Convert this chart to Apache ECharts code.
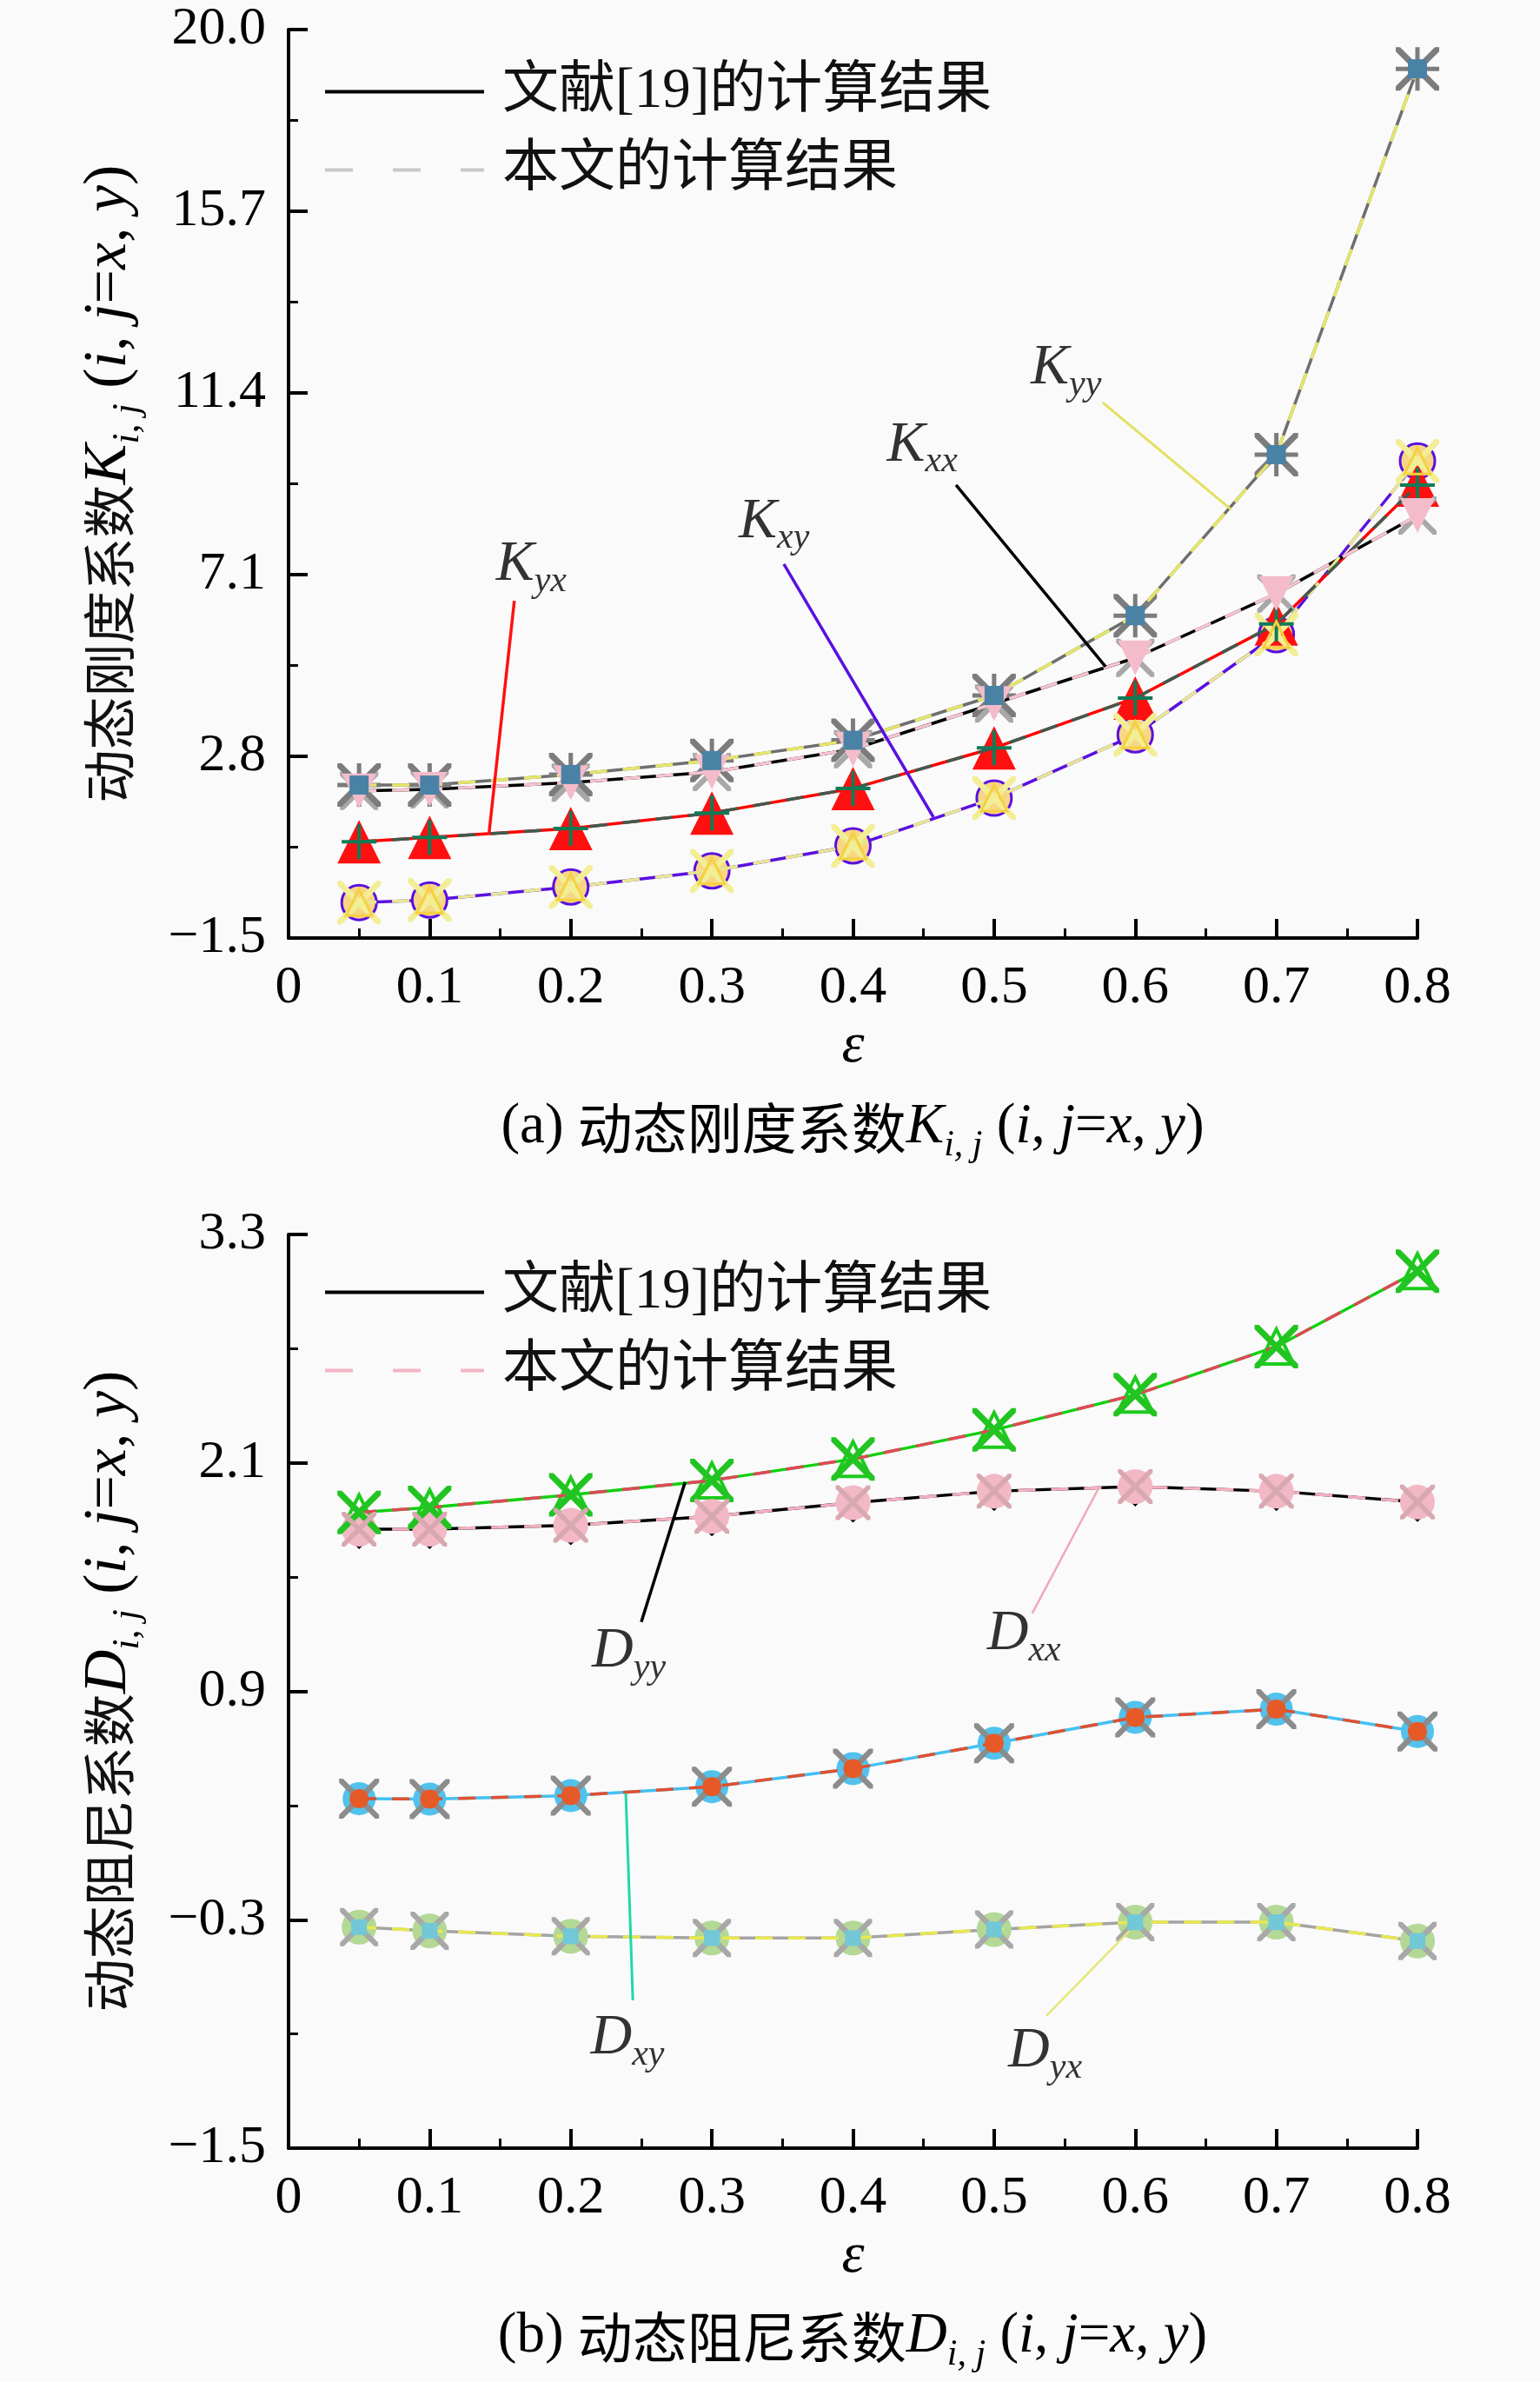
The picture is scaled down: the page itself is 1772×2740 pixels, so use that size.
<!DOCTYPE html>
<html><head><meta charset="utf-8">
<script src="https://cdn.jsdelivr.net/npm/echarts@6.0.0/dist/echarts.min.js"></script>
<style>html,body{margin:0;padding:0;background:#fafafa}#c{width:1772px;height:2740px}</style>
</head><body><div id="c"></div>
<script>
// ---------------- data ----------------
const eps = [0.05, 0.1, 0.2, 0.3, 0.4, 0.5, 0.6, 0.7, 0.8];
const kTicks = [-1.5, 2.8, 7.1, 11.4, 15.7, 20.0];
const dTicks = [-1.5, -0.3, 0.9, 2.1, 3.3];

// stiffness K (ref [19] and this paper)
const Kyy_ref  = [2.12, 2.12, 2.37, 2.70, 3.18, 4.24, 6.13, 9.94, 19.07];
const Kyy_ours = [2.12, 2.12, 2.37, 2.70, 3.18, 4.24, 6.13, 9.94, 19.07];
const Kxx_ref  = [1.98, 2.02, 2.18, 2.43, 2.97, 4.05, 5.13, 6.65, 8.50];
const Kxx_ours = [1.98, 2.02, 2.18, 2.43, 2.97, 4.05, 5.13, 6.65, 8.50];
const Kyx_ref  = [0.78, 0.88, 1.09, 1.46, 2.04, 3.00, 4.18, 5.93, 9.22];
const Kyx_ours = [0.78, 0.88, 1.09, 1.46, 2.04, 3.00, 4.18, 5.93, 9.22];
const Kxy_ref  = [-0.66, -0.60, -0.29, 0.09, 0.68, 1.81, 3.31, 5.68, 9.79];
const Kxy_ours = [-0.66, -0.60, -0.29, 0.09, 0.68, 1.81, 3.31, 5.68, 9.79];

// damping D
const Dyy_ref  = [1.84, 1.866, 1.932, 2.008, 2.12, 2.273, 2.458, 2.711, 3.107];
const Dyy_ours = [1.84, 1.866, 1.932, 2.008, 2.12, 2.273, 2.458, 2.711, 3.107];
const Dxx_ref  = [1.752, 1.752, 1.772, 1.819, 1.891, 1.951, 1.976, 1.951, 1.894];
const Dxx_ours = [1.752, 1.752, 1.772, 1.819, 1.891, 1.951, 1.976, 1.951, 1.894];
const Dxy_ref  = [0.336, 0.334, 0.352, 0.399, 0.494, 0.627, 0.763, 0.806, 0.689];
const Dxy_ours = [0.336, 0.334, 0.352, 0.399, 0.494, 0.627, 0.763, 0.806, 0.689];
const Dyx_ref  = [-0.339, -0.358, -0.387, -0.396, -0.396, -0.351, -0.313, -0.313, -0.412];
const Dyx_ours = [-0.339, -0.358, -0.387, -0.396, -0.396, -0.351, -0.313, -0.313, -0.412];

const legendNames = { refA: '文献[19]的计算结果', oursA: '本文的计算结果', refB: '文献[19]的计算结果', oursB: '本文的计算结果' };

// annotation layout (data coordinates)
const kNotes = [
  { sub: 'yy', at: [0.526, 11.98], from: [0.577, 11.17], to: [0.668, 8.64], color: '#e2e060', w: 3 },
  { sub: 'xx', at: [0.424, 10.16], from: [0.473, 9.22], to: [0.579, 4.92], color: '#000000', w: 3.5 },
  { sub: 'xy', at: [0.319, 8.35], from: [0.351, 7.35], to: [0.457, 1.36], color: '#5a10e0', w: 3.5 },
  { sub: 'yx', at: [0.147, 7.33], from: [0.160, 6.48], to: [0.142, 0.95], color: '#ff1010', w: 3.5 }
];
const dNotes = [
  { sub: 'yy', at: [0.215, 1.108], from: [0.250, 1.264], to: [0.281, 1.999], color: '#000000', w: 3.5 },
  { sub: 'xx', at: [0.495, 1.199], from: [0.527, 1.309], to: [0.575, 1.980], color: '#f0a8b8', w: 2.5 },
  { sub: 'xy', at: [0.214, -0.924], from: [0.244, -0.723], to: [0.239, 0.364], color: '#22d8a8', w: 3 },
  { sub: 'yx', at: [0.510, -0.992], from: [0.537, -0.805], to: [0.596, -0.358], color: '#e6e67a', w: 2.5 }
];

// ---------------- styling ----------------
const SERIF = "'Liberation Serif', 'Noto Sans CJK SC'";
const CJK = "'Noto Sans CJK SC'";
const X = 'path://M0,0L4,0L20,16L36,0L40,0L40,4L24,20L40,36L40,40L36,40L20,24L4,40L0,40L0,36L16,20L0,4Z';
const PLUS = 'path://M18,0H22V18H40V22H22V40H18V22H0V18H18Z';
const AST = 'path://M0,0L4,0L20,16L36,0L40,0L40,4L24,20L40,36L40,40L36,40L20,24L4,40L0,40L0,36L16,20L0,4Z M18,0H22V18H40V22H22V40H18V22H0V18H18Z';
const DOWN = 'path://M0,0L40,0L20,36Z';

const pairs = arr => eps.map((x, i) => [x, arr[i]]);

function ser(g, arr, o) {
  return {
    type: 'line', xAxisIndex: g, yAxisIndex: g * 2, data: pairs(arr),
    symbol: o.symbol || 'none', symbolSize: o.size || 10, symbolOffset: o.offset || [0, 0],
    showAllSymbol: true, silent: true, animation: false, z: o.z || 3,
    lineStyle: { color: o.color || '#000', width: o.width == null ? 3.5 : o.width, type: o.dash ? [20, 18] : 'solid', opacity: o.noLine ? 0 : 1 },
    itemStyle: { color: o.fill || 'rgba(0,0,0,0)', borderColor: o.border || 'rgba(0,0,0,0)', borderWidth: o.bw || 0, opacity: 1 }
  };
}

function noteSeries(g, notes, letter) {
  const out = [];
  notes.forEach(n => {
    out.push({
      type: 'line', xAxisIndex: g, yAxisIndex: g * 2, data: [n.from, n.to], symbol: 'none',
      silent: true, animation: false, z: 6,
      lineStyle: { color: n.color, width: n.w }
    });
    out.push({
      type: 'scatter', xAxisIndex: g, yAxisIndex: g * 2, data: [n.at], symbolSize: 1,
      itemStyle: { color: 'rgba(0,0,0,0)' }, silent: true, animation: false, z: 7,
      label: {
        show: true, position: 'inside', align: 'left', verticalAlign: 'middle',
        formatter: '{a|' + letter + '}{b|' + n.sub + '}',
        rich: {
          a: { fontFamily: 'Liberation Serif', fontStyle: 'italic', fontSize: 66, color: '#000', lineHeight: 80 },
          b: { fontFamily: 'Liberation Serif', fontStyle: 'italic', fontSize: 42, color: '#000', lineHeight: 42, verticalAlign: 'bottom' }
        }
      }
    });
  });
  return out;
}

function xAxisOf(g) {
  return {
    type: 'value', gridIndex: g, min: 0, max: 0.8, interval: 0.1,
    axisLine: { show: true, onZero: false, lineStyle: { color: '#000', width: 4 } },
    axisTick: { show: true, inside: true, length: 22, lineStyle: { color: '#000', width: 4 } },
    minorTick: { show: true, splitNumber: 2, length: 11, lineStyle: { color: '#000', width: 3 } },
    splitLine: { show: false }, minorSplitLine: { show: false },
    axisLabel: { fontFamily: 'Liberation Serif', fontSize: 62, color: '#000', margin: 27,
      formatter: v => String(Math.round(v * 100) / 100) },
    name: 'ε', nameLocation: 'middle', nameGap: 92,
    nameTextStyle: { fontFamily: 'Liberation Serif', fontStyle: 'italic', fontSize: 66, color: '#000' }
  };
}

const fmtY = v => (v < 0 ? '−' : '') + Math.abs(v).toFixed(1);
function yAxesOf(g, ticks, name) {
  const mids = [];
  for (let i = 0; i < ticks.length - 1; i++) mids.push(Math.round((ticks[i] + ticks[i + 1]) / 2 * 1000) / 1000);
  const mn = ticks[0], mx = ticks[ticks.length - 1];
  return [{
    type: 'value', gridIndex: g, min: mn, max: mx, position: 'left',
    axisLine: { show: true, onZero: false, lineStyle: { color: '#000', width: 4 } },
    axisTick: { show: true, inside: true, length: 22, customValues: ticks, lineStyle: { color: '#000', width: 4 } },
    axisLabel: { customValues: ticks, fontFamily: 'Liberation Serif', fontSize: 62, color: '#000', margin: 26, formatter: fmtY },
    splitLine: { show: false },
    name: name, nameLocation: 'middle', nameRotate: 90, nameGap: 163,
    nameTextStyle: {
      rich: {
        c: { fontFamily: CJK, fontSize: 61, color: '#111', lineHeight: 86 },
        k: { fontFamily: 'Liberation Serif', fontStyle: 'italic', fontSize: 70, color: '#000', lineHeight: 86 },
        r: { fontFamily: 'Liberation Serif', fontSize: 70, color: '#000', lineHeight: 86 },
        s: { fontFamily: 'Liberation Serif', fontStyle: 'italic', fontSize: 44, color: '#000', lineHeight: 44, verticalAlign: 'bottom' }
      }
    }
  }, {
    type: 'value', gridIndex: g, min: mn, max: mx, position: 'left',
    axisLine: { show: false, onZero: false },
    axisTick: { show: true, inside: true, length: 11, customValues: mids, lineStyle: { color: '#000', width: 3 } },
    axisLabel: { show: false }, splitLine: { show: false }
  }];
}

const yNameK = '{c|动态刚度系数}{k|K}{s|i, j}{r| (}{k|i}{r|, }{k|j}{r|=}{k|x}{r|, }{k|y}{r|)}';
const yNameD = '{c|动态阻尼系数}{k|D}{s|i, j}{r| (}{k|i}{r|, }{k|j}{r|=}{k|x}{r|, }{k|y}{r|)}';

const series = [
  // legend dummies
  { name: 'refA', type: 'line', xAxisIndex: 0, yAxisIndex: 0, data: [], symbol: 'none', lineStyle: { color: '#000', width: 4 }, itemStyle: { color: 'rgba(0,0,0,0)' } },
  { name: 'oursA', type: 'line', xAxisIndex: 0, yAxisIndex: 0, data: [], symbol: 'none', lineStyle: { color: '#c8c8c8', width: 4, type: [32, 46] }, itemStyle: { color: 'rgba(0,0,0,0)' } },
  { name: 'refB', type: 'line', xAxisIndex: 1, yAxisIndex: 2, data: [], symbol: 'none', lineStyle: { color: '#000', width: 4 }, itemStyle: { color: 'rgba(0,0,0,0)' } },
  { name: 'oursB', type: 'line', xAxisIndex: 1, yAxisIndex: 2, data: [], symbol: 'none', lineStyle: { color: '#f4b4c4', width: 4, type: [32, 46] }, itemStyle: { color: 'rgba(0,0,0,0)' } },

  // ---- K chart ----
  // Kxy
  ser(0, Kxy_ref, { color: '#5a10e0', symbol: 'circle', size: 40, fill: '#f7d684', border: '#5a10e0', bw: 3, z: 3 }),
  ser(0, Kxy_ours, { color: '#e8e890', dash: true, symbol: X, size: 50, fill: '#f2ee96', z: 4 }),
  ser(0, Kxy_ours, { noLine: true, symbol: 'triangle', size: 30, fill: 'rgba(0,0,0,0)', border: '#f6d040', bw: 3, z: 5 }),
  // Kyx
  ser(0, Kyx_ref, { color: '#ff0000', symbol: 'triangle', size: 50, fill: '#ff1010', z: 3 }),
  ser(0, Kyx_ours, { color: '#3c5c4e', dash: true, symbol: PLUS, size: 40, fill: '#127a56', z: 4 }),
  // Kxx
  ser(0, Kxx_ref, { color: '#000000', symbol: X, size: 44, fill: '#a8a8a8', z: 3 }),
  ser(0, Kxx_ours, { color: '#f6c4d0', dash: true, symbol: DOWN, size: 40, fill: '#f4bccb', z: 4 }),
  // Kyy
  ser(0, Kyy_ref, { color: '#6e6e6e', symbol: AST, size: 50, fill: '#7c7c7c', z: 3 }),
  ser(0, Kyy_ours, { color: '#e6e66a', dash: true, symbol: 'rect', size: 22, fill: '#4a82a6', z: 4 }),

  // ---- D chart ----
  // Dyx
  ser(1, Dyx_ref, { color: '#a4a4a4', symbol: 'circle', size: 40, fill: '#b4d896', z: 3 }),
  ser(1, Dyx_ours, { color: '#e8e850', dash: true, symbol: X, size: 44, fill: '#a8a8a8', z: 4 }),
  ser(1, Dyx_ours, { noLine: true, symbol: 'rect', size: 18, fill: '#72c8d6', z: 5 }),
  // Dxy
  ser(1, Dxy_ref, { color: '#44c0f0', symbol: 'circle', size: 38, fill: '#52c2ec', z: 3 }),
  ser(1, Dxy_ours, { color: '#e05030', dash: true, symbol: X, size: 46, fill: '#8c8c8c', z: 4 }),
  ser(1, Dxy_ours, { noLine: true, symbol: 'circle', size: 22, fill: '#e65a28', z: 5 }),
  // Dxx
  ser(1, Dxx_ref, { color: '#000000', symbol: 'diamond', size: 22, fill: '#000', offset: [0, 12], z: 3 }),
  ser(1, Dxx_ours, { color: '#f2b0c0', dash: true, symbol: 'circle', size: 40, fill: '#f2b8c6', z: 4 }),
  ser(1, Dxx_ours, { noLine: true, symbol: X, size: 40, fill: '#d8a8b0', z: 5 }),
  // Dyy
  ser(1, Dyy_ref, { color: '#10d010', symbol: 'triangle', size: 40, fill: 'rgba(0,0,0,0)', border: '#1ccc1c', bw: 4, z: 3 }),
  ser(1, Dyy_ours, { color: '#e04858', dash: true, symbol: X, size: 50, fill: '#22c422', z: 4 })
].concat(noteSeries(0, kNotes, 'K'), noteSeries(1, dNotes, 'D'));

const legendBase = {
  orient: 'vertical', itemWidth: 183, itemHeight: 66, itemGap: 25, selectedMode: false,
  formatter: n => legendNames[n],
  itemStyle: { color: 'rgba(0,0,0,0)', borderWidth: 0, opacity: 0 },
  lineStyle: { width: 4 },
  textStyle: { fontFamily: SERIF, fontSize: 65, color: '#111', padding: [0, 0, 0, 16] }
};

const capRich = {
  r: { fontFamily: 'Liberation Serif', fontSize: 65, color: '#000', lineHeight: 84 },
  c: { fontFamily: CJK, fontSize: 63, color: '#111', lineHeight: 84 },
  k: { fontFamily: 'Liberation Serif', fontStyle: 'italic', fontSize: 65, color: '#000', lineHeight: 84 },
  s: { fontFamily: 'Liberation Serif', fontStyle: 'italic', fontSize: 42, color: '#000', lineHeight: 42, verticalAlign: 'bottom' }
};

const chart = echarts.init(document.getElementById('c'), null, { renderer: 'canvas' });
chart.setOption({
  backgroundColor: '#fafafa',
  animation: false,
  grid: [
    { left: 332, right: 141, top: 34, height: 1045 },
    { left: 332, right: 141, top: 1420, height: 1051 }
  ],
  xAxis: [xAxisOf(0), xAxisOf(1)],
  yAxis: yAxesOf(0, kTicks, yNameK).concat(yAxesOf(1, dTicks, yNameD)),
  legend: [
    Object.assign({}, legendBase, { left: 367, top: 68, data: ['refA', 'oursA'] }),
    Object.assign({}, legendBase, { left: 367, top: 1449, data: ['refB', 'oursB'] })
  ],
  graphic: [
    { type: 'text', x: 981, y: 1297, style: { text: '{r|(a) }{c|动态刚度系数}{k|K}{s|i, j}{r| (}{k|i}{r|, }{k|j}{r|=}{k|x}{r|, }{k|y}{r|)}', rich: capRich, align: 'center', verticalAlign: 'middle', textAlign: 'center', textVerticalAlign: 'middle' } },
    { type: 'text', x: 981, y: 2688, style: { text: '{r|(b) }{c|动态阻尼系数}{k|D}{s|i, j}{r| (}{k|i}{r|, }{k|j}{r|=}{k|x}{r|, }{k|y}{r|)}', rich: capRich, align: 'center', verticalAlign: 'middle', textAlign: 'center', textVerticalAlign: 'middle' } }
  ],
  series: series
});
</script>
</body></html>
